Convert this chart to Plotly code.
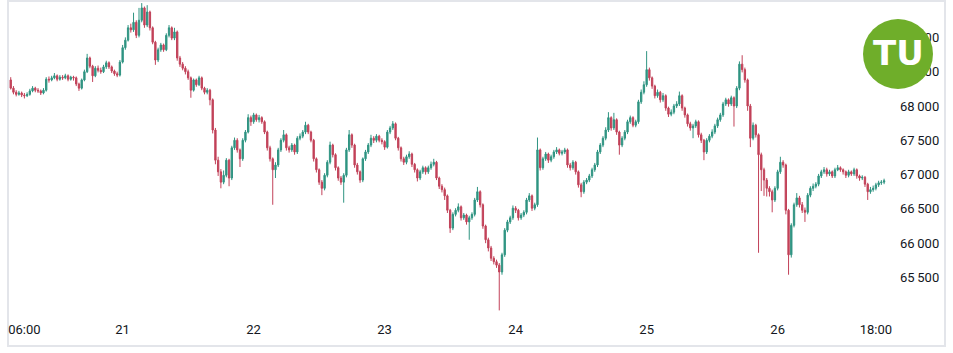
import pandas as pd
import plotly.graph_objects as go

# 30-minute candles, 20th 03:30 -> 26th 19:30
start_time = "2024-10-20 03:30"
first_open = 68380
close = [
 68260,68200,68170,68190,68160,68150,68170,68220,68260,68230,
 68220,68190,68230,68390,68380,68410,68440,68390,68420,68410,
 68440,68390,68420,68410,68320,68260,68380,68500,68700,68580,
 68440,68550,68520,68500,68570,68630,68570,68510,68470,68450,
 68640,68850,68960,69140,69110,69220,69030,69250,69430,69180,
 69370,69140,68930,68670,68820,68890,68820,69030,69140,68990,
 69080,68700,68610,68550,68500,68410,68230,68380,68310,68410,
 68260,68200,68230,68090,67650,67210,67040,66890,66990,67210,
 66950,67390,67500,67360,67230,67500,67620,67830,67770,67870,
 67800,67830,67770,67620,67390,67230,67070,67140,67360,67500,
 67580,67390,67360,67430,67330,67530,67560,67620,67720,67620,
 67500,67230,67070,66890,66800,66990,67180,67430,67290,67100,
 66950,66890,66990,67360,67580,67430,67140,67040,66920,67230,
 67330,67430,67530,67500,67560,67500,67480,67400,67620,67680,
 67740,67530,67390,67230,67180,67260,67300,67150,67070,66950,
 67040,67100,67040,67100,67150,67180,66950,66830,66780,66690,
 66480,66220,66420,66480,66530,66370,66410,66310,66370,66420,
 66630,66750,66560,66250,66050,65930,65780,65730,65680,65580,
 65830,66190,66310,66370,66510,66480,66370,66410,66450,66630,
 66690,66510,66560,67360,67100,67230,67300,67210,67260,67330,
 67360,67310,67330,67360,67140,67100,67180,67040,66850,66750,
 66890,66920,66980,67070,67140,67330,67430,67530,67650,67830,
 67680,67800,67620,67430,67530,67620,67770,67830,67720,67770,
 68060,68200,68310,68530,68410,68290,68150,68200,68090,68150,
 67970,67880,67910,68000,68030,68150,67970,67870,67740,67680,
 67710,67770,67580,67500,67330,67500,67560,67620,67710,67800,
 67870,68030,68090,68030,68120,68000,68260,68610,68530,68380,
 68000,67530,67720,67580,67290,67070,66920,66800,66750,66630,
 66800,67040,67180,67140,66480,65830,66260,66560,66660,66560,
 66480,66450,66700,66800,66830,66860,66980,67040,67070,67010,
 67040,66980,67070,67100,67070,67040,66990,67040,67010,67070,
 66980,66950,66960,66860,66750,66780,66800,66850,66880,66890,
 66910,
]
high = [
 68420,68290,68230,68220,68210,68190,68200,68250,68290,68280,
 68260,68240,68260,68420,68430,68440,68480,68460,68450,68450,
 68470,68460,68440,68440,68430,68340,68400,68530,68760,68720,
 68600,68580,68590,68560,68600,68660,68650,68590,68530,68500,
 68670,68890,69000,69180,69200,69360,69250,69430,69500,69450,
 69470,69390,69160,68950,68850,68920,68910,69060,69180,69160,
 69140,69100,68730,68640,68580,68530,68430,68400,68400,68440,
 68430,68280,68260,68250,68110,67680,67260,67080,67060,67240,
 67230,67420,67540,67530,67380,67530,67650,67880,67860,67900,
 67890,67870,67850,67790,67640,67420,67250,67180,67390,67530,
 67650,67600,67420,67460,67450,67560,67600,67650,67770,67740,
 67640,67520,67250,67090,66920,67020,67210,67480,67450,67310,
 67120,66980,67020,67390,67650,67600,67450,67170,67060,67250,
 67360,67460,67580,67560,67590,67580,67530,67500,67650,67710,
 67780,67760,67550,67410,67260,67290,67340,67320,67170,67090,
 67070,67130,67120,67130,67190,67230,67200,66970,66860,66810,
 66710,66500,66450,66510,66580,66550,66440,66430,66400,66450,
 66660,66820,66770,66580,66270,66080,65960,65810,65760,65710,
 65860,66220,66340,66400,66550,66540,66500,66440,66480,66660,
 66730,66710,66590,67540,67380,67260,67330,67320,67290,67360,
 67400,67380,67360,67390,67380,67170,67210,67200,67060,66880,
 66920,66950,67010,67100,67170,67360,67460,67560,67690,67910,
 67850,67900,67820,67640,67560,67650,67800,67860,67850,67800,
 68090,68240,68360,68800,68560,68430,68310,68240,68220,68190,
 68170,67990,67950,68030,68070,68210,68170,67990,67890,67770,
 67740,67800,67790,67610,67520,67530,67590,67660,67740,67830,
 67900,68060,68120,68110,68150,68140,68290,68650,68740,68560,
 68400,68030,67760,67740,67600,67320,67100,66950,66830,66780,
 66830,67070,67260,67210,67160,66500,66290,66590,66730,66690,
 66600,66520,66730,66830,66870,66890,67010,67070,67110,67100,
 67070,67060,67100,67140,67120,67090,67060,67070,67060,67100,
 67090,67000,66990,66980,66880,66820,66840,66880,66910,66920,
 66940,
]
low = [
 68240,68170,68140,68150,68130,68110,68130,68150,68200,68200,
 68190,68160,68170,68210,68340,68360,68390,68360,68370,68380,
 68390,68360,68370,68370,68290,68220,68240,68360,68480,68550,
 68350,68420,68490,68470,68480,68540,68540,68480,68440,68420,
 68430,68620,68820,68940,69070,69080,68990,69000,69220,69140,
 69150,69100,68900,68600,68640,68790,68790,68800,69000,68960,
 68960,68660,68570,68520,68460,68380,68120,68210,68280,68290,
 68230,68170,68170,68010,67600,67150,66980,66800,66860,66960,
 66830,66920,67360,67320,67110,67200,67470,67600,67710,67740,
 67770,67760,67740,67590,67350,67190,66560,66950,67110,67330,
 67470,67350,67320,67330,67290,67300,67500,67530,67590,67590,
 67470,67190,67030,66850,66700,66770,66960,67150,67250,67060,
 66910,66850,66590,66960,67330,67390,67100,67000,66880,66890,
 67200,67300,67400,67460,67470,67470,67440,67360,67380,67590,
 67650,67500,67350,67190,67140,67150,67230,67110,67030,66900,
 66920,67010,67000,67010,67070,67120,66920,66790,66740,66630,
 66440,66150,66190,66390,66450,66330,66340,66270,66050,66340,
 66390,66600,66520,66210,66000,65880,65740,65690,65640,65020,
 65540,65800,66160,66280,66340,66440,66330,66340,66380,66420,
 66600,66470,66480,66530,67060,67070,67200,67170,67180,67230,
 67300,67280,67280,67300,67100,67060,67070,67000,66810,66670,
 66720,66860,66890,66950,67040,67110,67300,67400,67500,67620,
 67640,67650,67580,67290,67400,67500,67590,67740,67690,67690,
 67740,68030,68170,68280,68370,68250,68110,68120,68050,68060,
 67930,67840,67850,67880,67970,68000,67930,67830,67700,67640,
 67530,67680,67540,67460,67210,67300,67470,67530,67590,67680,
 67770,67840,68000,67990,68000,67700,67970,68230,68490,68340,
 67930,67400,67500,67540,65860,66760,66690,66680,66680,66450,
 66600,66770,67010,67100,66420,65540,65790,66230,66530,66520,
 66440,66310,66420,66670,66760,66800,66830,66950,67010,66970,
 66980,66950,66950,67050,67040,67000,66950,66960,66980,66980,
 66940,66910,66920,66820,66630,66720,66750,66770,66820,66850,
 66860,
]

x_ticks = ["2024-10-20 06:00", "2024-10-21", "2024-10-22", "2024-10-23",
           "2024-10-24", "2024-10-25", "2024-10-26", "2024-10-26 18:00"]
x_tick_text = ["06:00", "21", "22", "23", "24", "25", "26", "18:00"]
y_ticks = [65500, 66000, 66500, 67000, 67500, 68000, 68500, 69000]
y_tick_text = ["65\u2009500", "66\u2009000", "66\u2009500", "67\u2009000",
               "67\u2009500", "68\u2009000", "68\u2009500", "69\u2009000"]

times = pd.date_range(start_time, periods=len(close), freq="30min")
opens = [first_open] + close[:-1]

fig = go.Figure(go.Candlestick(
    x=times, open=opens, high=high, low=low, close=close,
    increasing=dict(line=dict(color="#2f9482", width=1), fillcolor="#2f9482"),
    decreasing=dict(line=dict(color="#c24259", width=1), fillcolor="#c24259"),
    hoverinfo="skip",
))

W, H = 953, 353
ml, mr, mt, mb = 8, 58, 2, 33
fig.update_layout(
    width=W, height=H,
    margin=dict(l=ml, r=mr, t=mt, b=mb, pad=0),
    paper_bgcolor="white", plot_bgcolor="white",
    showlegend=False,
    font=dict(family="Roboto, Arial, sans-serif", size=13, color="#131722"),
    xaxis=dict(
        range=["2024-10-20 03:00", "2024-10-26 21:30"],
        rangeslider=dict(visible=False),
        tickvals=x_ticks, ticktext=x_tick_text,
        showgrid=False, zeroline=False, showline=False, ticks="",
        tickfont=dict(size=13, color="#131722"),
    ),
    yaxis=dict(
        range=[64880, 69516], side="right",
        tickvals=y_ticks, ticktext=y_tick_text,
        showgrid=False, zeroline=False, showline=False, ticks="",
        ticklabelstandoff=4,
        tickfont=dict(size=13, color="#131722"),
    ),
)

pw = W - ml - mr
ph = H - mt - mb
def px(xp):
    return (xp - ml) / pw
def py(yp):
    return 1 - (yp - mt) / ph

# outer frame
fig.add_shape(type="rect", xref="paper", yref="paper",
              x0=px(8), x1=px(945), y0=py(346), y1=py(1),
              line=dict(color="#e3e5ea", width=2), layer="below")
# logo badge
fig.add_shape(type="circle", xref="paper", yref="paper",
              x0=px(863), x1=px(933), y0=py(89), y1=py(19),
              line=dict(width=0), fillcolor="#6fae2a", layer="above")
fig.add_annotation(xref="paper", yref="paper", x=px(899), y=py(53),
                   xanchor="center", yanchor="middle",
                   text="<b>TU</b>", showarrow=False,
                   font=dict(family="DejaVu Sans", size=34, color="white"))

fig.write_html("out.html")
